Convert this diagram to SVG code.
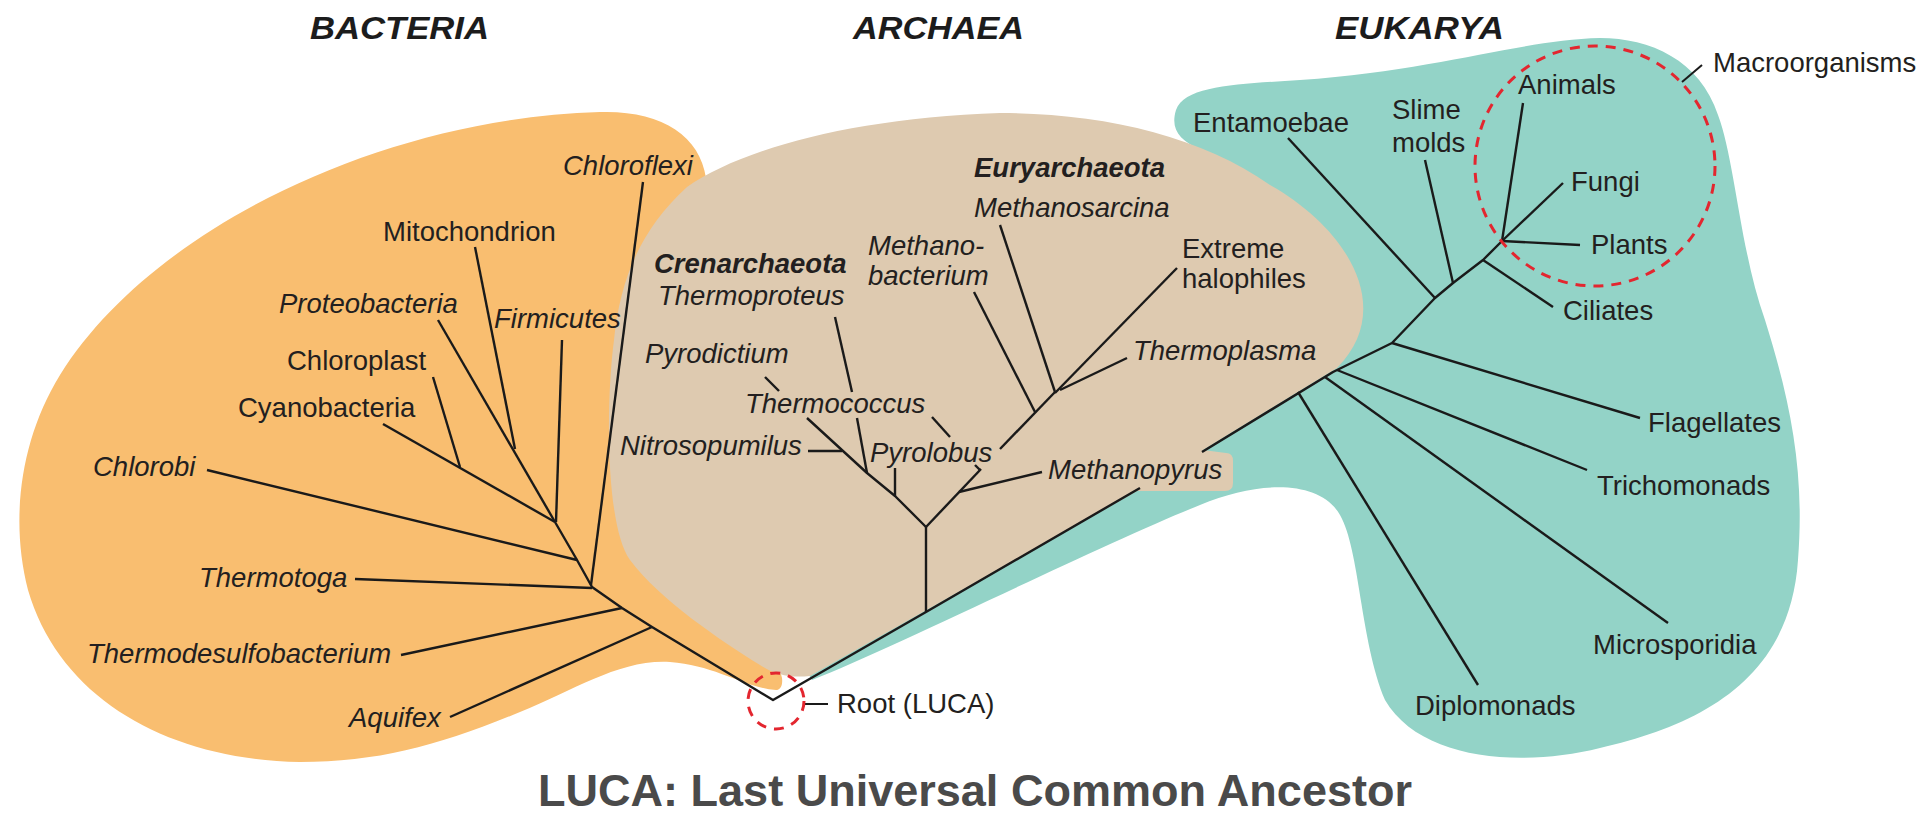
<svg xmlns="http://www.w3.org/2000/svg" width="1930" height="818" viewBox="0 0 1930 818">
<style>
.t{font-family:"Liberation Sans",Arial,Helvetica,sans-serif;font-size:27.5px;fill:#231f20}
.i{font-style:italic}
.b{font-weight:bold}
.title{font-family:"Liberation Sans",Arial,Helvetica,sans-serif;font-size:32px;font-weight:bold;font-style:italic;fill:#1c1c1c}
.luca{font-family:"Liberation Sans",Arial,Helvetica,sans-serif;font-size:44px;font-weight:bold;fill:#4a4a4a}
.ln{fill:none;stroke:#1a1a1a;stroke-width:2.4;stroke-linejoin:round}
.red{fill:none;stroke:#e3262f;stroke-width:3;stroke-dasharray:10 8}
</style>
<rect width="1930" height="818" fill="#ffffff"/>
<g id="domains">
<path id="bacteria-area" fill="#F9BE70" d="M 600,112 C 660,110 700,135 706,178 L 740,400 L 772,640 L 782,678 C 783,686 780,690 776,690 C 745,688 715,665 670,662 C 620,659 575,690 520,712 C 440,745 380,762 300,762 C 170,760 60,700 28,590 C 10,520 20,440 60,375 C 150,230 380,118 600,112 Z"/>
<path id="eukarya-area" fill="#93D3C7" d="M 812,680 C 900,645 1100,545 1200,505 C 1260,480 1320,480 1340,515 C 1360,550 1360,640 1385,700 C 1420,760 1520,768 1600,748 C 1700,725 1790,680 1798,560 C 1805,470 1790,400 1765,320 C 1740,250 1735,160 1718,115 C 1700,60 1650,38 1600,38 C 1520,40 1440,70 1300,80 C 1240,84 1185,85 1176,110 C 1170,130 1180,140 1200,150 L 1300,300 L 1300,380 L 1200,430 L 926,595 L 806,670 Z"/>
<path id="archaea-area" fill="#DECAB0" d="M 687,187 C 740,150 850,118 1000,113 C 1100,113 1200,135 1270,185 C 1350,230 1395,310 1337,368 L 1203,450 L 1226,453 Q 1233,453 1233,461 L 1233,483 Q 1233,491 1225,491 L 1137,491 L 810,676 C 790,678 775,675 760,665 C 720,640 660,600 630,560 C 605,525 606,400 614,340 C 620,280 640,230 687,187 Z"/>
</g>
<g id="connectors" class="ln">
<polyline points="555,522 577,560 592,587 622,608 652,627 773,700 926,612 1140,488"/>
<polyline points="1202,452 1333,372 1392,343 1435,298 1453,283 1483,260 1502,241"/>
<line x1="207" y1="470" x2="577" y2="560"/>
<line x1="383" y1="424" x2="555" y2="522"/>
<line x1="433" y1="377" x2="460" y2="467"/>
<line x1="438" y1="320" x2="555" y2="522"/>
<line x1="475" y1="247" x2="515" y2="449"/>
<line x1="562" y1="340" x2="556" y2="522"/>
<line x1="643" y1="182" x2="591" y2="585"/>
<line x1="355" y1="579" x2="592" y2="588"/>
<line x1="401" y1="655" x2="622" y2="608"/>
<line x1="450" y1="717" x2="652" y2="627"/>
<line x1="926" y1="527" x2="926" y2="612"/>
<polyline points="926,527 895,496 867,473 807,418"/>
<line x1="765" y1="377" x2="779" y2="391"/>
<line x1="808" y1="451" x2="842" y2="451"/>
<line x1="835" y1="317" x2="852" y2="392"/>
<line x1="857" y1="418" x2="867" y2="473"/>
<line x1="895" y1="468" x2="895" y2="496"/>
<line x1="926" y1="527" x2="981" y2="469"/>
<line x1="1000" y1="449" x2="1055" y2="392"/>
<line x1="959" y1="492" x2="1042" y2="472"/>
<line x1="932" y1="417" x2="950" y2="437"/>
<line x1="975" y1="465" x2="980" y2="470"/>
<line x1="974" y1="292" x2="1035" y2="412"/>
<line x1="1000" y1="225" x2="1055" y2="392"/>
<line x1="1177" y1="268" x2="1055" y2="393"/>
<line x1="1127" y1="358" x2="1060" y2="390"/>
<line x1="1298" y1="392" x2="1478" y2="685"/>
<line x1="1325" y1="377" x2="1668" y2="623"/>
<line x1="1337" y1="370" x2="1587" y2="470"/>
<line x1="1392" y1="343" x2="1640" y2="418"/>
<line x1="1288" y1="138" x2="1435" y2="298"/>
<line x1="1425" y1="160" x2="1453" y2="283"/>
<line x1="1483" y1="260" x2="1553" y2="307"/>
<line x1="1523" y1="103" x2="1502" y2="241"/>
<line x1="1563" y1="183" x2="1502" y2="241"/>
<line x1="1502" y1="241" x2="1580" y2="245"/>
<line x1="1682" y1="82" x2="1702" y2="65" stroke-width="2"/>
<line x1="805" y1="704" x2="828" y2="704" stroke-width="2"/>
</g>
<g id="highlights">
<circle id="macro-circle" class="red" cx="1595" cy="166" r="120"/>
<circle id="root-circle" class="red" cx="776" cy="701" r="28" stroke-dasharray="9 7"/>
</g>
<g id="titles">
<text id="title-bacteria" class="title" x="310" y="39" textLength="179" lengthAdjust="spacingAndGlyphs">BACTERIA</text>
<text id="title-archaea" class="title" x="853" y="39" textLength="171" lengthAdjust="spacingAndGlyphs">ARCHAEA</text>
<text id="title-eukarya" class="title" x="1335" y="39" textLength="169" lengthAdjust="spacingAndGlyphs">EUKARYA</text>
<text id="title-luca" class="luca" x="538" y="806" textLength="874" lengthAdjust="spacingAndGlyphs">LUCA: Last Universal Common Ancestor</text>
</g>
<g id="n-chloroflexi"><text class="t i" x="563" y="175">Chloroflexi</text></g>
<g id="n-mitochondrion"><text class="t" x="383" y="241">Mitochondrion</text></g>
<g id="n-proteobacteria"><text class="t i" x="279" y="313">Proteobacteria</text></g>
<g id="n-firmicutes"><text class="t i" x="494" y="328">Firmicutes</text></g>
<g id="n-chloroplast"><text class="t" x="287" y="370">Chloroplast</text></g>
<g id="n-cyanobacteria"><text class="t" x="238" y="417">Cyanobacteria</text></g>
<g id="n-chlorobi"><text class="t i" x="93" y="476">Chlorobi</text></g>
<g id="n-thermotoga"><text class="t i" x="199" y="587">Thermotoga</text></g>
<g id="n-thermodesulfobacterium"><text class="t i" x="87" y="663">Thermodesulfobacterium</text></g>
<g id="n-aquifex"><text class="t i" x="349" y="727">Aquifex</text></g>
<g id="n-root"><text class="t" x="837" y="713">Root (LUCA)</text></g>
<g id="n-euryarchaeota"><text class="t i b" x="974" y="177">Euryarchaeota</text></g>
<g id="n-methanosarcina"><text class="t i" x="974" y="217">Methanosarcina</text></g>
<g id="n-methanobacterium"><text class="t i" x="868" y="255">Methano-</text><text class="t i" x="868" y="285">bacterium</text></g>
<g id="n-crenarchaeota"><text class="t i b" x="654" y="273">Crenarchaeota</text></g>
<g id="n-thermoproteus"><text class="t i" x="658" y="305">Thermoproteus</text></g>
<g id="n-pyrodictium"><text class="t i" x="645" y="363">Pyrodictium</text></g>
<g id="n-thermococcus"><text class="t i" x="745" y="413">Thermococcus</text></g>
<g id="n-nitrosopumilus"><text class="t i" x="620" y="455">Nitrosopumilus</text></g>
<g id="n-pyrolobus"><text class="t i" x="870" y="462">Pyrolobus</text></g>
<g id="n-extreme-halophiles"><text class="t" x="1182" y="258">Extreme</text><text class="t" x="1182" y="288">halophiles</text></g>
<g id="n-thermoplasma"><text class="t i" x="1133" y="360">Thermoplasma</text></g>
<g id="n-methanopyrus"><text class="t i" x="1048" y="479">Methanopyrus</text></g>
<g id="n-entamoebae"><text class="t" x="1193" y="132">Entamoebae</text></g>
<g id="n-slime-molds"><text class="t" x="1392" y="119">Slime</text><text class="t" x="1392" y="152">molds</text></g>
<g id="n-animals"><text class="t" x="1518" y="94">Animals</text></g>
<g id="n-fungi"><text class="t" x="1571" y="191">Fungi</text></g>
<g id="n-plants"><text class="t" x="1591" y="254">Plants</text></g>
<g id="n-ciliates"><text class="t" x="1563" y="320">Ciliates</text></g>
<g id="n-flagellates"><text class="t" x="1648" y="432">Flagellates</text></g>
<g id="n-trichomonads"><text class="t" x="1597" y="495">Trichomonads</text></g>
<g id="n-microsporidia"><text class="t" x="1593" y="654">Microsporidia</text></g>
<g id="n-diplomonads"><text class="t" x="1415" y="715">Diplomonads</text></g>
<g id="n-macroorganisms"><text class="t" x="1713" y="72">Macroorganisms</text></g>
</svg>
